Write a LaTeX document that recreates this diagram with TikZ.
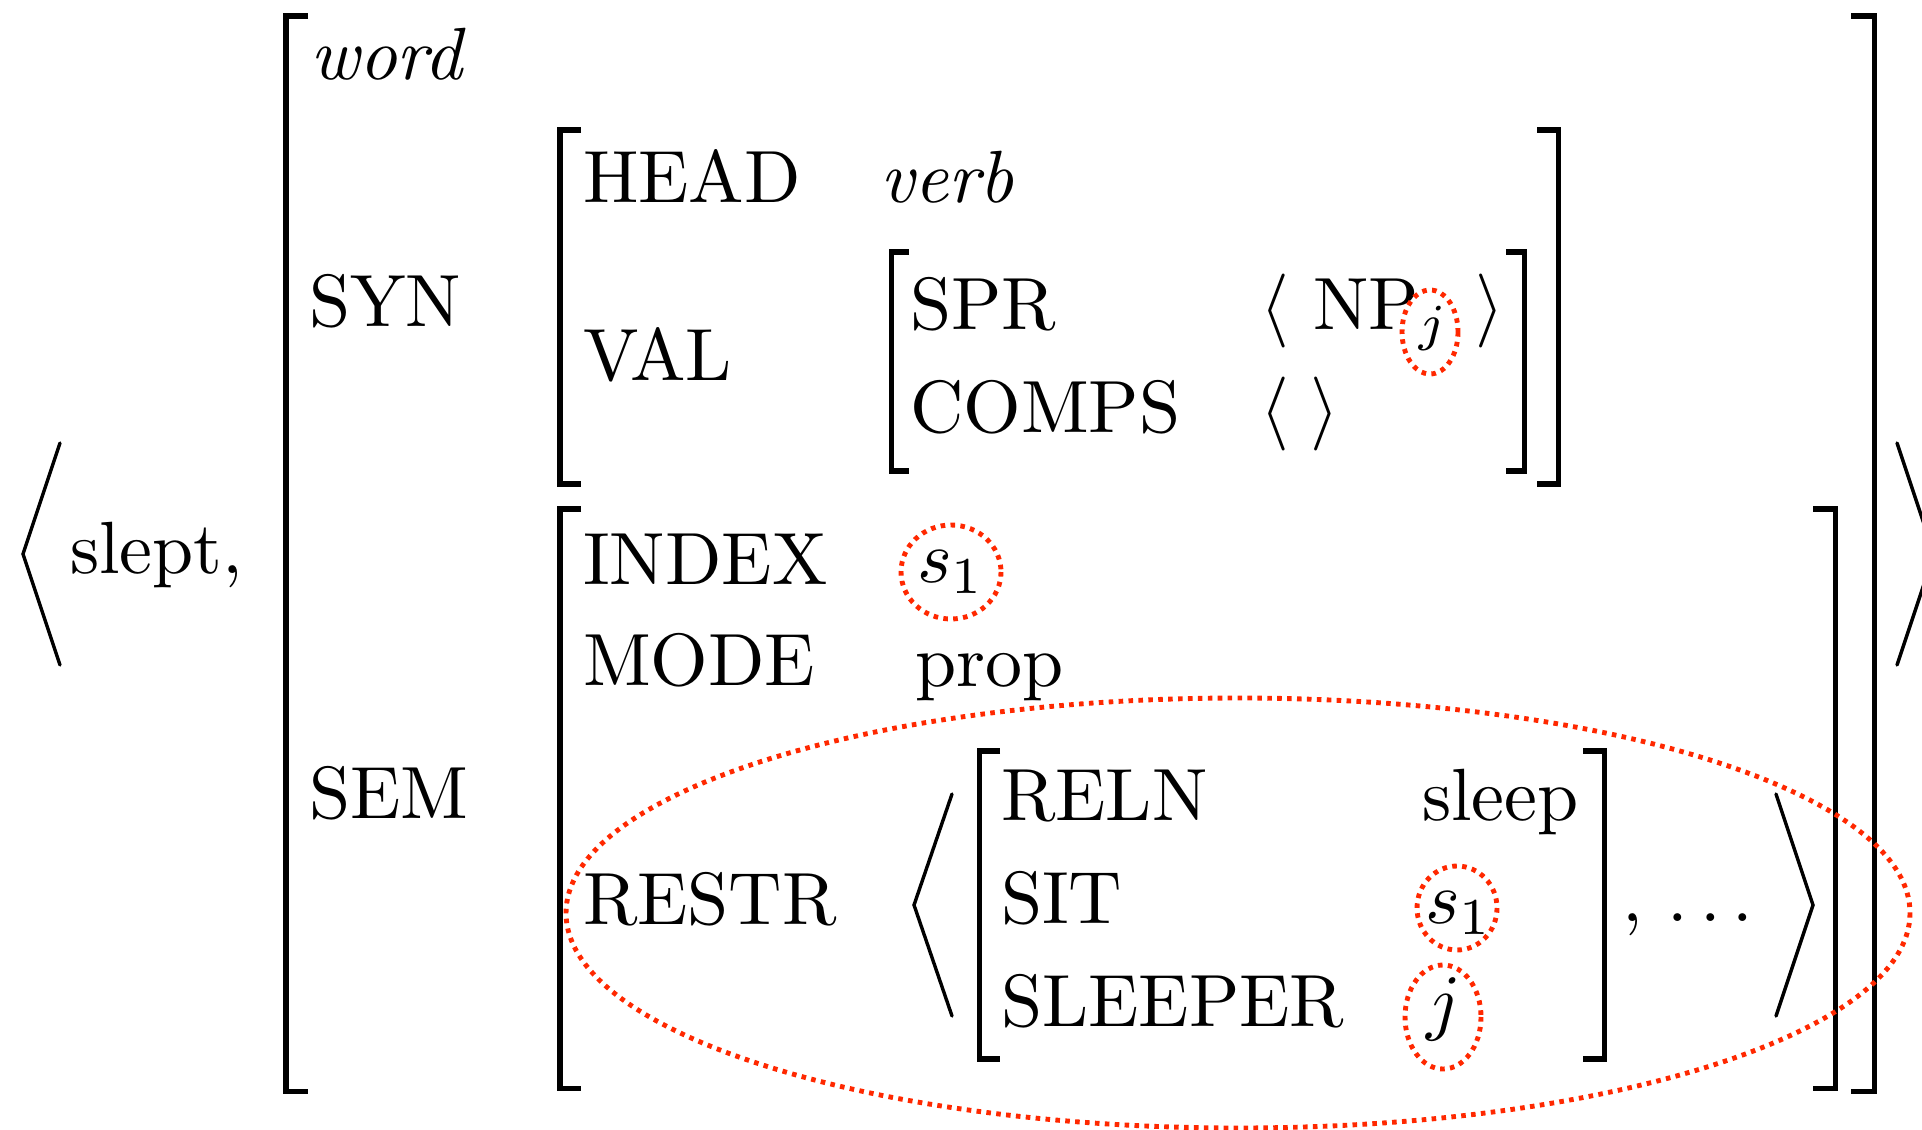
\documentclass[tikz,border=0pt]{standalone}
\definecolor{redc}{RGB}{255,40,0}
\begin{document}
\begin{tikzpicture}[x=0.13514pt,y=-0.13514pt,
  txt/.style={anchor=base west, inner sep=0pt, outer sep=0pt},
  ctxt/.style={anchor=base, inner sep=0pt, outer sep=0pt},
  brk/.style={line width=0.68pt, line join=miter, line cap=butt},
  ang/.style={line width=0.46pt, line cap=round, line join=miter},
  redot/.style={draw=redc, line width=0.66pt, dash pattern=on 0.62pt off 0.72pt}]
\useasboundingbox (0,0) rectangle (1922,1129);
\clip (0,0) rectangle (1922,1129);

% outer angle brackets
\draw[ang] (60,443) -- (23,554) -- (60,665);
\draw[ang] (1897,443) -- (1934,554) -- (1897,665);
\node[txt] (slept) at (70,573) {slept,};

% outer AVM brackets
\draw[brk] (308,16) -- (286,16) -- (286,1091) -- (308,1091);
\draw[brk] (1851,16) -- (1874,16) -- (1874,1091) -- (1851,1091);
\node[txt] (word) at (310,80) {\textit{word}};
\node[txt] (syn) at (309,326) {SYN};
\node[txt] (sem) at (309,818) {SEM};

% SYN value
\draw[brk] (581,130) -- (560,130) -- (560,484) -- (581,484);
\draw[brk] (1537,130) -- (1558,130) -- (1558,484) -- (1537,484);
\node[txt] (head) at (583,203) {HEAD};
\node[txt] (verb) at (880,203) {\textit{verb}};
\node[txt] (val) at (583,381) {VAL};

% VAL value
\draw[brk] (909,252) -- (891,252) -- (891,471) -- (909,471);
\draw[brk] (1506,252) -- (1524,252) -- (1524,471) -- (1506,471);
\node[txt] (spr) at (910,329) {SPR};
\node[txt] (comps) at (910,432) {COMPS};
\node[ctxt] (sprl) at (1275,329) {$\langle$};
\node[txt] (np) at (1313,329) {NP$_j$};
\node[ctxt] (sprr) at (1490,329) {$\rangle$};
\node[ctxt] (compsl) at (1275,432) {$\langle$};
\node[ctxt] (compsr) at (1325,432) {$\rangle$};

% SEM value
\draw[brk] (581,509) -- (560,509) -- (560,1088) -- (581,1088);
\draw[brk] (1813,509) -- (1835,509) -- (1835,1088) -- (1813,1088);
\node[txt] (index) at (583,584) {INDEX};
\node[txt] (idxv) at (917,582) {$s_1$};
\node[txt] (mode) at (583,685) {MODE};
\node[txt] (prop) at (915,686) {prop};
\node[txt] (restr) at (583,924) {RESTR};

% RESTR list
\draw[ang] (952,794) -- (914,905) -- (952,1016);
\draw[ang] (1776,794) -- (1813,905) -- (1776,1016);
\draw[brk] (1000,751) -- (979,751) -- (979,1059) -- (1000,1059);
\draw[brk] (1583,751) -- (1604,751) -- (1604,1059) -- (1583,1059);
\node[txt] (reln) at (1001,820) {RELN};
\node[txt] (sleep) at (1422,820) {sleep};
\node[txt] (sit) at (1001,923) {SIT};
\node[txt] (sitv) at (1425,923) {$s_1$};
\node[txt] (sleeper) at (1001,1026) {SLEEPER};
\node[txt] (sleeperv) at (1426,1026) {$j$};
\node[txt] (dots) at (1622,921) {,\ $\ldots$};

% red dotted highlights
\draw[redot] (1238,913) ellipse [x radius=672, y radius=215];
\draw[redot] (951,572) ellipse [x radius=50, y radius=47];
\draw[redot] (1430,332) ellipse [x radius=28, y radius=42];
\draw[redot] (1457,908) ellipse [x radius=40, y radius=42];
\draw[redot] (1443,1017) ellipse [x radius=38, y radius=52];
\end{tikzpicture}
\end{document}
